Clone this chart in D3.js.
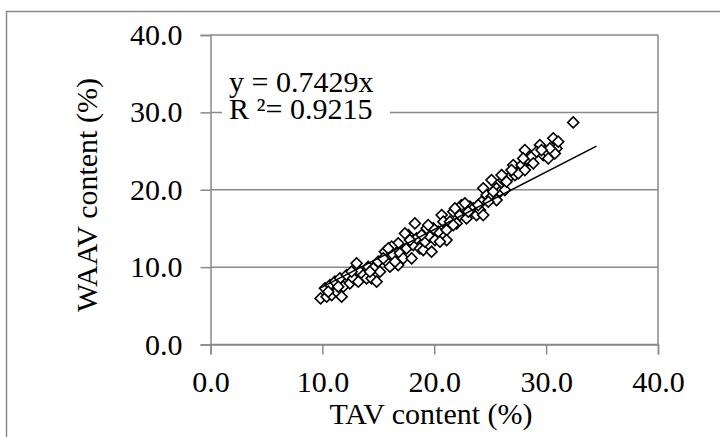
<!DOCTYPE html>
<html>
<head>
<meta charset="utf-8">
<script src="https://cdn.jsdelivr.net/npm/d3@7"></script>
<style>
  svg text { font-family: "Liberation Serif", "Times New Roman", Times, serif !important; }
</style>
</head>
<body style="margin:0; background:#fff">
<script>
const width = 720;
const height = 437;
const serifFont = "Liberation Serif";
const gridColor = "#898989";

// TAV content (%) and WAAV content (%)
const tav = [9.84, 10.38, 10.83, 11.27, 11.72, 10.23, 10.68, 11.12, 11.57, 11.87, 12.46, 12.17, 12.76,
  13.06, 13.36, 13.66, 13.95, 14.10, 14.40, 14.55, 14.99, 15.15, 14.85, 15.59, 15.74, 16.04, 16.34,
  16.78, 16.93, 17.23, 16.78, 17.53, 17.68, 17.98, 18.12, 18.27, 18.42, 18.72, 19.02, 19.17, 19.32,
  19.61, 19.76, 20.06, 20.36, 20.66, 20.81, 21.10, 21.10, 21.40, 21.70, 22.00, 22.29, 22.59, 22.89,
  23.19, 23.49, 23.78, 24.08, 24.23, 24.38, 24.38, 24.68, 25.12, 25.12, 25.57, 25.57, 25.87, 26.17,
  26.32, 26.76, 27.06, 27.21, 27.51, 27.81, 28.10, 28.10, 28.40, 28.70, 28.85, 29.44, 29.74, 30.04,
  30.19, 30.64, 30.93, 31.08, 30.78, 32.42,
  10.53, 11.42, 12.61, 13.21, 14.25, 15.44, 16.19, 16.49, 17.83, 18.87, 19.91, 20.51, 21.70, 22.44,
  23.04, 23.93, 24.83, 25.27, 26.46, 26.91, 27.95, 29.15, 30.34,
  15.89, 17.38, 19.46, 21.85, 22.74, 26.02, 29.59];
const waav = [5.96, 6.18, 6.39, 6.83, 6.18, 7.26, 7.69, 8.12, 8.55, 7.47, 7.90, 8.98, 8.55,
  10.49, 9.41, 8.98, 8.55, 10.05, 8.55, 9.84, 10.70, 9.41, 8.12, 12.00, 10.70, 10.05, 11.56,
  10.27, 11.78, 11.13, 13.07, 12.42, 14.15, 11.13, 12.85, 15.65, 13.72, 12.42, 12.21, 13.29, 15.01,
  13.93, 11.99, 13.50, 14.58, 16.73, 15.87, 14.79, 13.50, 15.87, 17.16, 15.65, 16.73, 17.59, 16.30,
  17.81, 17.59, 16.73, 17.38, 18.45, 16.73, 20.18, 19.31, 21.25, 19.10, 18.67, 20.18, 19.74, 21.25,
  19.96, 21.68, 23.19, 21.90, 22.11, 23.19, 25.13, 22.54, 23.84, 24.27, 23.41, 25.77, 24.48, 24.91,
  24.05, 26.64, 25.34, 26.21, 24.70, 28.70,
  6.83, 7.47, 9.41, 8.12, 9.41, 11.13, 12.64, 10.70, 13.50, 14.15, 15.01, 13.29, 15.44, 18.02,
  17.16, 18.02, 18.45, 19.74, 21.04, 22.54, 24.05, 24.91, 25.34,
  12.42, 14.36, 15.44, 17.59, 18.24, 21.90, 25.13];

const ticks = [0, 10, 20, 30, 40];
const slope = 0.7429;
const trendEnds = [9.84, 34.5];
const equation = ["y = 0.7429x", "R \u00b2= 0.9215"];

const x = d3.scaleLinear().domain([0, 40]).range([210.5, 658]);
const y = d3.scaleLinear().domain([0, 40]).range([344.5, 35]);

const svg = d3.select("body").append("svg")
  .attr("width", width)
  .attr("height", height)
  .attr("font-family", serifFont);

// outer chart frame (runs off the right and bottom)
svg.append("rect")
  .attr("x", 6.5).attr("y", 11.5)
  .attr("width", 740).attr("height", 460)
  .attr("fill", "none")
  .attr("stroke", gridColor)
  .attr("stroke-width", 1.5);

// horizontal gridlines
svg.append("g").selectAll("line")
  .data(ticks)
  .enter().append("line")
  .attr("x1", x(0)).attr("x2", x(40))
  .attr("y1", d => y(d)).attr("y2", d => y(d))
  .attr("stroke", gridColor)
  .attr("stroke-width", 1.5);

// right border of plot area
svg.append("line")
  .attr("x1", x(40)).attr("x2", x(40)).attr("y1", y(40)).attr("y2", y(0))
  .attr("stroke", gridColor)
  .attr("stroke-width", 1.5);

// axes
let yAxis = svg.append("g")
  .attr("transform", `translate(${x(0)},0)`)
  .call(d3.axisLeft(y).tickValues(ticks).tickSize(10).tickPadding(18).tickFormat(d3.format(".1f")));
let xAxis = svg.append("g")
  .attr("transform", `translate(0,${y(0)})`)
  .call(d3.axisBottom(x).tickValues(ticks).tickSize(10).tickPadding(16).tickFormat(d3.format(".1f")));

[yAxis, xAxis].forEach(a => {
  a.attr("font-family", serifFont).attr("font-size", 30);
  a.select(".domain").attr("stroke", gridColor).attr("stroke-width", 1.5);
  a.selectAll(".tick line").attr("stroke", gridColor).attr("stroke-width", 1.5);
  a.selectAll("text")
    .attr("fill", "#000")
    .style("font-family", serifFont)
    .style("font-size", "30px");
});

// markers
svg.append("g").selectAll("path")
  .data(tav.map((t, i) => [t, waav[i]]))
  .enter().append("path")
  .attr("d", d3.symbol(d3.symbolSquare, 60))
  .attr("transform", d => `translate(${x(d[0])},${y(d[1])}) rotate(45)`)
  .attr("fill", "#fff")
  .attr("stroke", "#000")
  .attr("stroke-width", 1.6);

// linear trendline through origin
svg.append("line")
  .attr("x1", x(trendEnds[0])).attr("y1", y(slope * trendEnds[0]))
  .attr("x2", x(trendEnds[1])).attr("y2", y(slope * trendEnds[1]))
  .attr("stroke", "#000")
  .attr("stroke-width", 1.5);

// equation label
svg.append("rect")
  .attr("x", 222).attr("y", 66)
  .attr("width", 168).attr("height", 62)
  .attr("fill", "#fff");

svg.selectAll("text.eq")
  .data(equation)
  .enter().append("text")
  .attr("class", "eq")
  .attr("x", 229)
  .attr("y", (d, i) => 92 + i * 27)
  .style("font-family", serifFont)
  .style("font-size", "30px")
  .text(d => d);

// axis titles
svg.append("text")
  .attr("x", 431).attr("y", 424)
  .attr("text-anchor", "middle")
  .style("font-family", serifFont)
  .style("font-size", "30px")
  .text("TAV content (%)");

svg.append("text")
  .attr("transform", "translate(97,195) rotate(-90)")
  .attr("text-anchor", "middle")
  .style("font-family", serifFont)
  .style("font-size", "30px")
  .text("WAAV content (%)");
</script>
</body>
</html>
